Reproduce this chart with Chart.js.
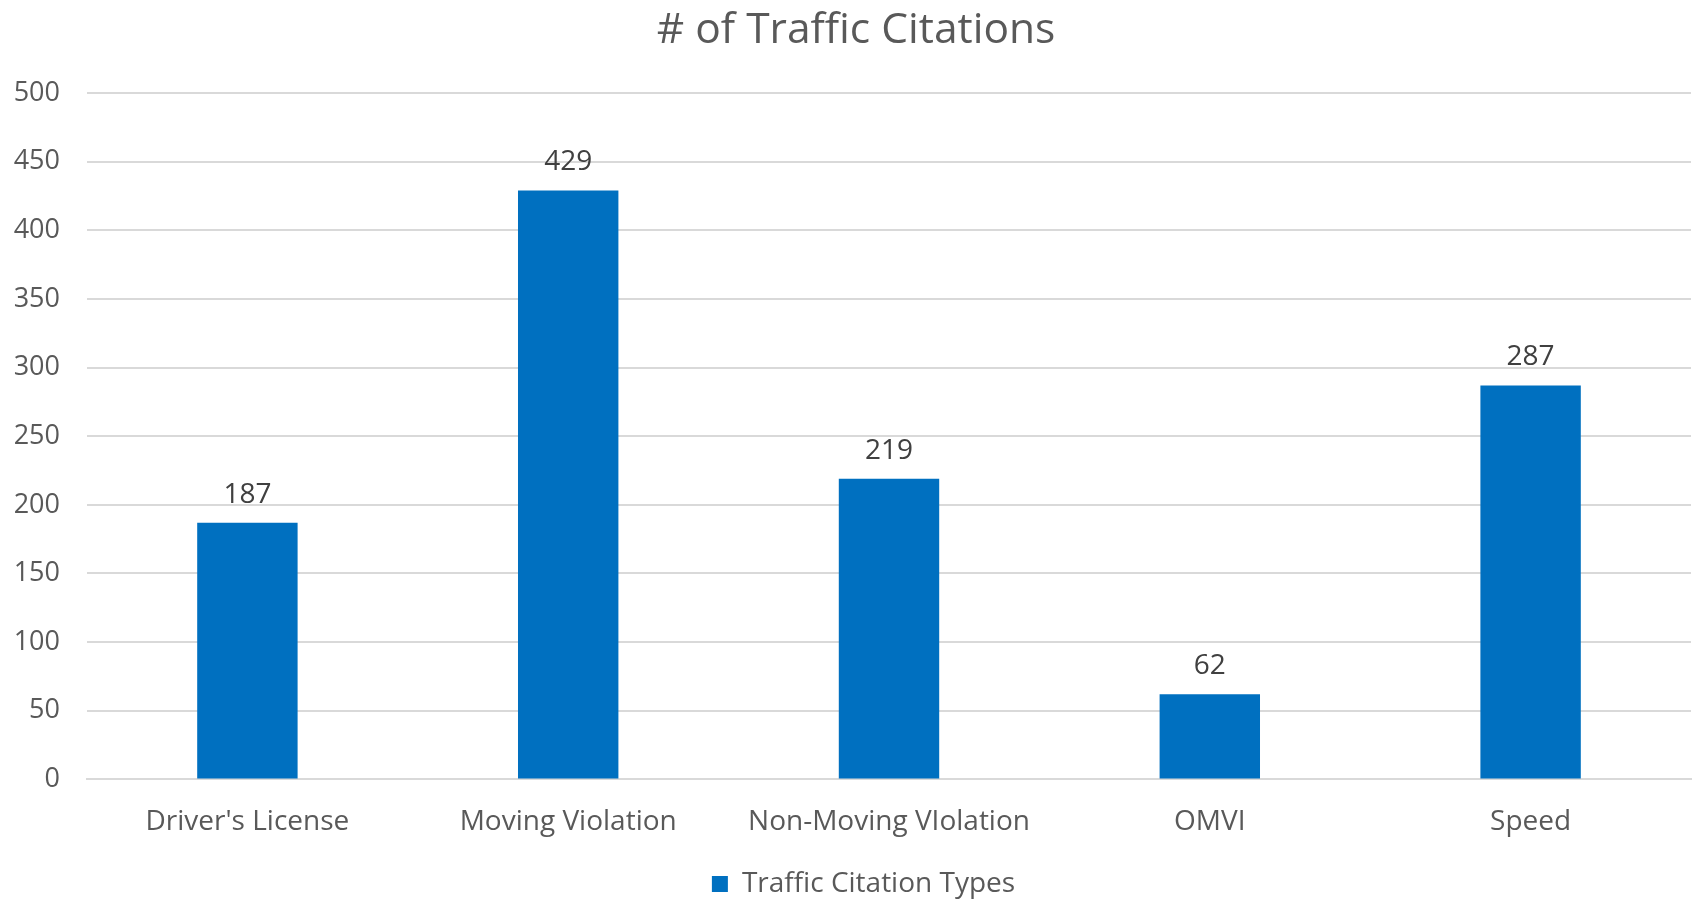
<!DOCTYPE html>
<html>
<head>
<meta charset="utf-8">
<script src="https://cdn.jsdelivr.net/npm/chart.js@4.4.0/dist/chart.umd.min.js"></script>
<style>
html,body{margin:0;padding:0;background:#fff;}
#wrap{width:1700px;height:899px;position:relative;}
</style>
</head>
<body>
<div id="wrap"><canvas id="c" width="1700" height="899"></canvas></div>
<script>
const categories = ["Driver's License", "Moving Violation", "Non-Moving VIolation", "OMVI", "Speed"];
const citationValues = [187, 429, 219, 62, 287];
const seriesName = "Traffic Citation Types";
const chartTitle = "# of Traffic Citations";
const yMin = 0, yMax = 500, yStep = 50;

const FONT = "'Open Sans', 'Noto Sans', sans-serif";

const valueLabels = {
  id: 'valueLabels',
  afterDatasetsDraw(chart) {
    const ctx = chart.ctx;
    const meta = chart.getDatasetMeta(0);
    ctx.save();
    ctx.font = "28px " + FONT;
    ctx.fillStyle = '#404040';
    ctx.textAlign = 'center';
    ctx.textBaseline = 'middle';
    meta.data.forEach((bar, i) => {
      ctx.fillText(String(citationValues[i]), bar.x, bar.y - 28);
    });
    ctx.restore();
  }
};

// shift title and legend horizontally to match the reference's centring
const shiftBlocks = {
  id: 'shiftBlocks',
  afterLayout(chart) {
    if (chart.titleBlock) chart.titleBlock.left += 21;
    if (chart.legend) chart.legend.left += 36;
  }
};

new Chart(document.getElementById('c'), {
  type: 'bar',
  data: {
    labels: categories,
    datasets: [{
      label: seriesName,
      data: citationValues,
      backgroundColor: '#0070C0',
      borderWidth: 0,
      barPercentage: 0.313,
      categoryPercentage: 1.0
    }]
  },
  options: {
    responsive: false,
    animation: false,
    devicePixelRatio: 1,
    layout: { padding: { left: 0, right: 9, top: 0, bottom: -9 } },
    plugins: {
      title: {
        display: true,
        text: chartTitle,
        color: '#595959',
        font: { family: FONT, size: 42.5, weight: 'normal' },
        padding: { top: 5, bottom: 37 }
      },
      legend: {
        display: true,
        position: 'bottom',
        labels: {
          color: '#595959',
          font: { family: FONT, size: 28 },
          boxWidth: 16,
          boxHeight: 16,
          padding: 6
        }
      },
      tooltip: { enabled: false }
    },
    scales: {
      x: {
        grid: { display: false, drawTicks: false },
        border: { display: true, color: '#D9D9D9', width: 2 },
        ticks: { color: '#595959', font: { family: FONT, size: 28 }, padding: 25.5, maxRotation: 0 }
      },
      y: {
        min: yMin,
        max: yMax,
        afterFit(scale) { scale.width = 87; },
        grid: { color: '#D9D9D9', lineWidth: 2, drawTicks: false },
        border: { display: false },
        ticks: { stepSize: yStep, color: '#595959', font: { family: FONT, size: 27 }, padding: 27 }
      }
    }
  },
  plugins: [valueLabels, shiftBlocks]
});
</script>
</body>
</html>
